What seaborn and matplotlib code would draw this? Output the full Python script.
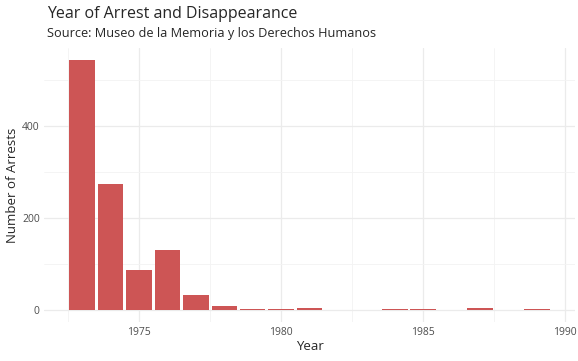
import matplotlib
matplotlib.use("Agg")
import matplotlib.pyplot as plt
import seaborn as sns
from matplotlib.ticker import MultipleLocator

# arrests per year
years = [1973, 1974, 1975, 1976, 1977, 1978, 1979, 1980, 1981, 1984, 1985, 1987, 1989]
counts = [542, 273, 87, 131, 32, 8, 1, 2, 5, 2, 1, 5, 2]

x_ticks = [1975, 1980, 1985, 1990]
y_ticks = [0, 200, 400]

sns.set_theme(style="white")
plt.rcParams["font.family"] = ["Open Sans", "DejaVu Sans"]

fig = plt.figure(figsize=(5.78, 3.61), dpi=100)
ax = fig.add_axes([0.076, 0.107, 0.919, 0.76])

# bars centred on each year, small gap between them
sns.histplot(x=years, weights=counts, discrete=True, shrink=0.9, color="#CD5555",
             linewidth=0, alpha=1, ax=ax, zorder=3)

ax.set_xlim(1971.65, 1990.35)
ax.set_ylim(-27, 569)
ax.set_xticks(x_ticks)
ax.set_yticks(y_ticks)
ax.xaxis.set_minor_locator(MultipleLocator(5, offset=2.5))
ax.yaxis.set_minor_locator(MultipleLocator(100))

ax.grid(which="major", color="#EBEBEB", linewidth=0.9, zorder=0)
ax.grid(which="minor", color="#F3F3F3", linewidth=0.6, zorder=0)
ax.set_axisbelow(True)
for s in ax.spines.values():
    s.set_visible(False)
ax.tick_params(which="both", length=0, labelsize=7.5, labelcolor="#4D4D4D", pad=3)

ax.set_xlabel("Year", fontsize=9.5, labelpad=2)
ax.set_ylabel("Number of Arrests", fontsize=9.5, labelpad=2)

fig.text(0.081, 0.96, "Year of Arrest and Disappearance", fontsize=11.5, va="center")
fig.text(0.081, 0.907, "Source: Museo de la Memoria y los Derechos Humanos", fontsize=9.2, va="center")

fig.savefig("out.png", dpi=100)
